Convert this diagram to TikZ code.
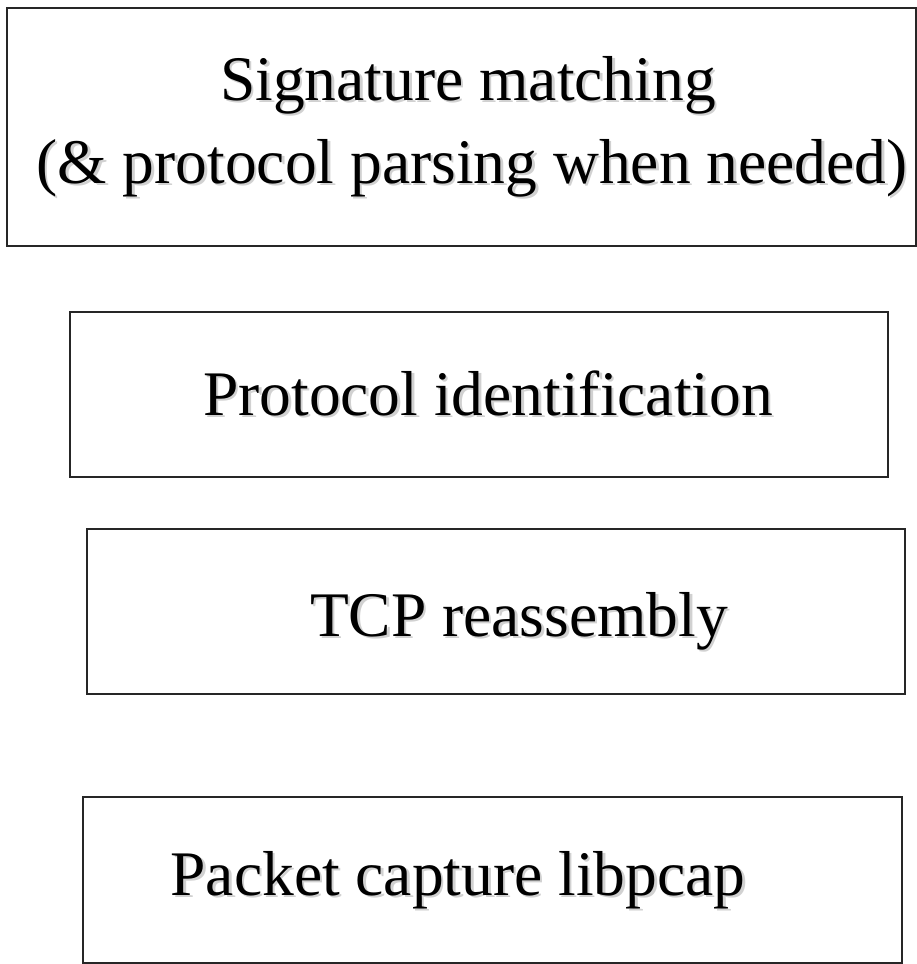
\documentclass[tikz,border=0pt]{standalone}
\usepackage{fontspec}
\setmainfont{Liberation Serif}
\usepackage{tikz}
\usetikzlibrary{positioning}

% text with a soft grey shadow
\newcommand{\shtext}[1]{\makebox[0pt][l]{\hspace{2.5pt}\raisebox{-2.5pt}{\textcolor{black!18}{#1}}}#1}

\begin{document}
\begin{tikzpicture}[x=1pt, y=-1pt,
    layer/.style={draw=black!85, line width=2.2pt, inner sep=0pt},
    caption/.style={anchor=base, inner sep=0pt, font=\fontsize{63.5}{76}\selectfont}
  ]
  \useasboundingbox (0,0) rectangle (917,964);

  % -- boxes, top to bottom --
  \node[layer, minimum width=909pt, minimum height=238pt] (sig) at (461.5,127) {};
  \node[layer, minimum width=818pt, minimum height=165pt] (proto) at (479,394.5) {};
  \node[layer, minimum width=818pt, minimum height=165pt] (tcp) at (496,611.5) {};
  \node[layer, minimum width=819pt, minimum height=166pt] (cap) at (492.5,880) {};

  % -- labels --
  \node[caption] (sigtxt1) at (468,100) {\shtext{Signature matching}};
  \node[caption] (sigtxt2) at (472,183) {\shtext{(\& protocol parsing when needed)}};
  \node[caption] (prototxt) at (488,415) {\shtext{Protocol identification}};
  \node[caption] (tcptxt) at (519,636) {\shtext{TCP reassembly}};
  \node[caption] (captxt) at (458,895) {\shtext{Packet capture libpcap}};
\end{tikzpicture}
\end{document}
